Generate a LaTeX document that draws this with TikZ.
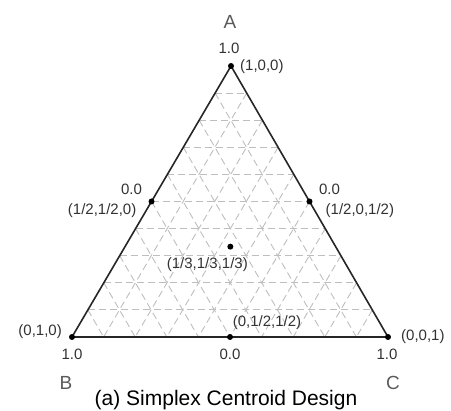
\documentclass[tikz,border=0pt]{standalone}
\usepackage{fontspec}
\setmainfont{Liberation Sans}
\usepackage{tikz}
\usetikzlibrary{calc, positioning}
\definecolor{gridGray}{RGB}{190, 190, 190}
\definecolor{labelGray}{RGB}{50, 50, 50}
\definecolor{cornerGray}{RGB}{90, 90, 90}

\begin{document}
\begin{tikzpicture}[
  x=1pt, y=1pt,
  edge/.style={draw=black!85, line width=1.6pt, line join=round},
  gridline/.style={draw=gridGray, line width=0.9pt, dash pattern=on 7pt off 4pt},
  design/.style={circle, fill=black, inner sep=0pt, minimum size=6pt},
  coord/.style={inner sep=0pt, text=labelGray, font=\fontsize{15}{18}\selectfont},
  corner/.style={inner sep=0pt, text=cornerGray, font=\fontsize{19}{22}\selectfont},
  caption/.style={inner sep=0pt, font=\fontsize{21}{25}\selectfont}
]
  \useasboundingbox (0,0) rectangle (451,-411);

  % Simplex vertices
  \coordinate (A) at (231,-66);
  \coordinate (B) at (72,-337);
  \coordinate (C) at (388,-337);

  % Background grid (10 divisions)
  \foreach \i in {1,...,9} {
    \draw[gridline] ($(A)!\i/10!(B)$) -- ($(A)!\i/10!(C)$);
    \draw[gridline] ($(B)!\i/10!(A)$) -- ($(B)!\i/10!(C)$);
    \draw[gridline] ($(C)!\i/10!(A)$) -- ($(C)!\i/10!(B)$);
  }

  % Triangle
  \draw[edge] (A) -- (B) -- (C) -- cycle;

  % Design points
  \node[design] (vA) at (A) {};
  \node[design] (vB) at (B) {};
  \node[design] (vC) at (C) {};
  \node[design] (mAB) at ($(A)!0.5!(B)$) {};
  \node[design] (mAC) at ($(A)!0.5!(C)$) {};
  \node[design] (mBC) at ($(B)!0.5!(C)$) {};
  \node[design] (cen) at ($(A)!2/3!(mBC)$) {};

  % Top vertex labels
  \node[corner] (lA) at ($(vA)+(-1,44)$) {A};
  \node[coord] (sA) at ($(vA)+(-2,18)$) {1.0};
  \node[coord, anchor=west] (pA) at ($(vA)+(9,-1)$) {(1,0,0)};

  % Side midpoint labels
  \node[coord] (sAB) at ($(mAB)+(-20,12)$) {0.0};
  \node[coord, anchor=east] (pAB) at ($(mAB)+(-15,-9)$) {(1/2,1/2,0)};
  \node[coord] (sAC) at ($(mAC)+(20,12)$) {0.0};
  \node[coord, anchor=west] (pAC) at ($(mAC)+(16,-9)$) {(1/2,0,1/2)};
  \node[coord] (pcen) at ($(cen)+(-23,-18)$) {(1/3,1/3,1/3)};

  % Bottom labels
  \node[coord, anchor=east] (pB) at ($(vB)+(-10,5)$) {(0,1,0)};
  \node[coord] (sB) at ($(vB)+(0,-17)$) {1.0};
  \node[corner] (lB) at ($(vB)+(-6,-46)$) {B};
  \node[coord] (pBC) at ($(mBC)+(37,14)$) {(0,1/2,1/2)};
  \node[coord] (sBC) at ($(mBC)+(0,-17)$) {0.0};
  \node[coord, anchor=west] (pC) at ($(vC)+(13,0)$) {(0,0,1)};
  \node[coord] (sC) at ($(vC)+(-1,-17)$) {1.0};
  \node[corner] (lC) at ($(vC)+(5,-46)$) {C};

  % Caption
  \node[caption] (cap) at ($(mBC)+(-4,-63)$) {(a) Simplex Centroid Design};

\end{tikzpicture}
\end{document}
